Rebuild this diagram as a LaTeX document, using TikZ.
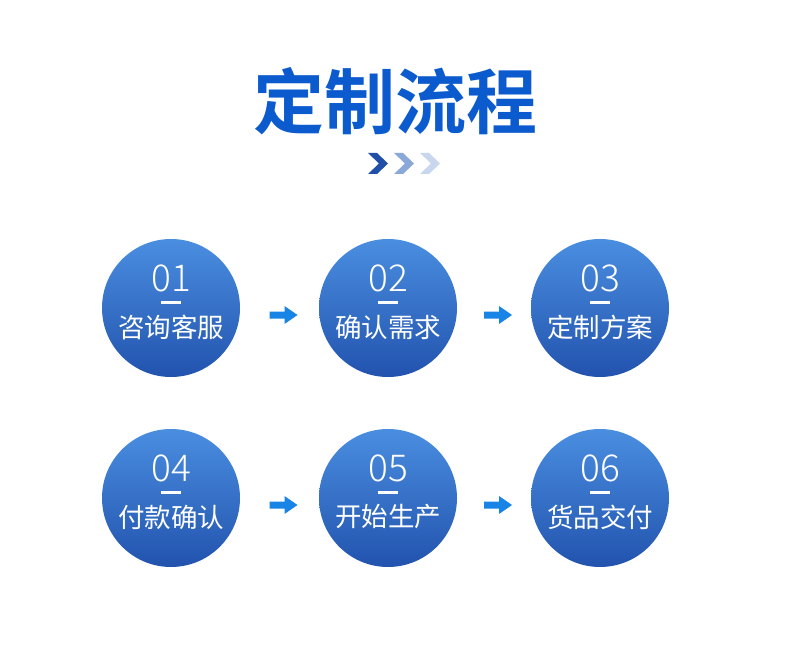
\documentclass[tikz,border=0pt]{standalone}
\usepackage{fontspec}
\usetikzlibrary{calc}
\newfontfamily\cjk{Noto Sans CJK SC}
\newfontfamily\cjkbold{Noto Sans CJK SC Bold}
\newfontfamily\cjklight{Noto Sans CJK SC Light}
\definecolor{titleblue}{HTML}{0B5BCF}
\definecolor{circtop}{HTML}{4A8EE0}
\definecolor{circbot}{HTML}{2253AE}
\definecolor{arrowblue}{HTML}{1784E6}
\definecolor{chev1}{HTML}{1F4FA8}
\definecolor{chev2}{HTML}{8AA8D8}
\definecolor{chev3}{HTML}{C8D7EE}
\tikzset{
  stepcirc/.style={circle, minimum size=138pt, inner sep=0pt, top color=circtop, bottom color=circbot, draw=none},
  numtext/.style={text=white, font=\cjklight\fontsize{37}{37}\selectfont},
  labtext/.style={text=white, font=\cjk\fontsize{26.5}{26.5}\selectfont},
  dashbar/.style={fill=white, draw=none},
  flowarrow/.style={fill=arrowblue, draw=none},
}
\newcommand{\stepnode}[5]{%
  \node[stepcirc] (#1) at (#2,#3) {};
  \node[numtext] (#1n) at ([yshift=30pt]#1.center) {#4};
  \fill[dashbar] ([xshift=-10pt,yshift=7pt]#1.center) rectangle ([xshift=10pt,yshift=4.5pt]#1.center);
  \node[labtext] (#1t) at ([yshift=-19pt]#1.center) {#5};
}
\newcommand{\flowarr}[2]{%
  \path ($(#1.east)!0.5!(#2.west)$) ++(4pt,-7pt) coordinate (#1#2m);
  \fill[flowarrow] ([xshift=-14pt,yshift=-3.5pt]#1#2m) -- ([xshift=1pt,yshift=-3.5pt]#1#2m) -- ([xshift=1pt,yshift=-9pt]#1#2m) -- ([xshift=14pt]#1#2m) -- ([xshift=1pt,yshift=9pt]#1#2m) -- ([xshift=1pt,yshift=3.5pt]#1#2m) -- ([xshift=-14pt,yshift=3.5pt]#1#2m) -- cycle;
}
\begin{document}
\begin{tikzpicture}[x=1pt,y=-1pt]
\useasboundingbox[fill=white] (0,0) rectangle (790,647);
\node[text=titleblue, font=\cjkbold\fontsize{71}{71}\selectfont] (title) at (395,101) {定制流程};
\coordinate (ch) at (378,163.5);
\foreach \i/\c in {0/chev1,1/chev2,2/chev3}{
  \fill[\c] ($(ch)+(\i*26-10,-10.5)$) -- ++(9,0) -- ++(11,10.5) -- ++(-11,10.5) -- ++(-9,0) -- ++(11,-10.5) -- cycle;
}
\stepnode{s1}{171}{308}{01}{咨询客服}
\stepnode{s2}{388}{308}{02}{确认需求}
\stepnode{s3}{600}{308}{03}{定制方案}
\stepnode{s4}{171}{498}{04}{付款确认}
\stepnode{s5}{388}{498}{05}{开始生产}
\stepnode{s6}{600}{498}{06}{货品交付}
\flowarr{s1}{s2}
\flowarr{s2}{s3}
\flowarr{s4}{s5}
\flowarr{s5}{s6}
\end{tikzpicture}
\end{document}
